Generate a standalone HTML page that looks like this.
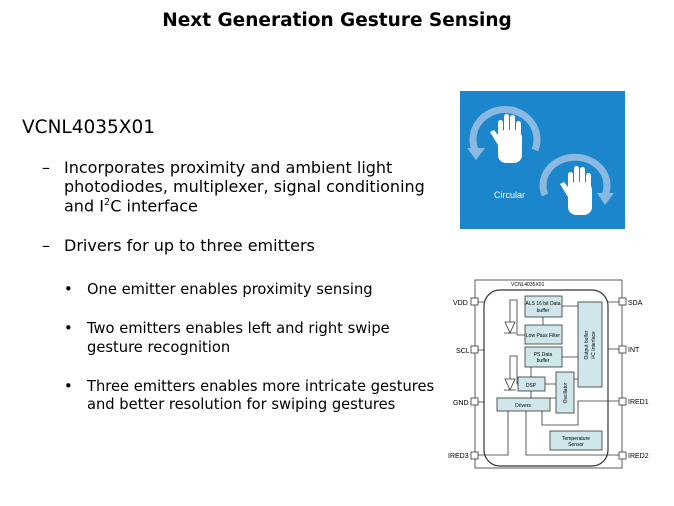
<!DOCTYPE html>
<html><head><meta charset="utf-8"><style>
body{margin:0;width:674px;height:506px;background:#fff;position:relative;overflow:hidden;font-family:"DejaVu Sans","Liberation Sans",sans-serif;color:#000}
.t{position:absolute;white-space:nowrap;line-height:1}
.b{font-size:16px}
.s{font-size:14.7px}
</style></head><body>
<div class="t" style="left:0;width:674px;text-align:center;top:12px;font-weight:bold;font-size:18.5px">Next Generation Gesture Sensing</div>
<div class="t" style="left:22px;top:119px;font-size:18.5px">VCNL4035X01</div>
<div class="t b" style="left:42px;top:160px">–</div>
<div class="t b" style="left:64px;top:160px">Incorporates proximity and ambient light</div>
<div class="t b" style="left:64px;top:179px">photodiodes, multiplexer, signal conditioning</div>
<div class="t b" style="left:64px;top:198px">and I<sup style="font-size:10px">2</sup>C interface</div>
<div class="t b" style="left:42px;top:238px">–</div>
<div class="t b" style="left:64px;top:238px">Drivers for up to three emitters</div>
<div class="t s" style="left:64px;top:283px">•</div>
<div class="t s" style="left:87px;top:283px">One emitter enables proximity sensing</div>
<div class="t s" style="left:64px;top:322px">•</div>
<div class="t s" style="left:87px;top:322px">Two emitters enables left and right swipe</div>
<div class="t s" style="left:87px;top:341px">gesture recognition</div>
<div class="t s" style="left:64px;top:380px">•</div>
<div class="t s" style="left:87px;top:380px">Three emitters enables more intricate gestures</div>
<div class="t s" style="left:87px;top:398px">and better resolution for swiping gestures</div>

<svg style="position:absolute;left:0;top:0" width="674" height="506">
<rect x="460" y="91" width="165" height="138" fill="#1b86cc"/>
<path d="M475 150 A32 30 0 1 1 535 150" fill="none" stroke="#8ab8e0" stroke-width="7"/>
<path d="M467 148 L485 148 L476 160Z" fill="#8ab8e0"/>
<path d="M545 195 A32 28 0 1 1 605 195" fill="none" stroke="#8ab8e0" stroke-width="7"/>
<path d="M597 193 L614 193 L605 205Z" fill="#8ab8e0"/>
<g fill="#fff"><rect x="498" y="130" width="24" height="33" rx="8"/><rect x="498" y="120" width="5" height="22" rx="2.5"/><rect x="504" y="114" width="5" height="22" rx="2.5"/><rect x="510" y="115" width="5" height="22" rx="2.5"/><rect x="516" y="121" width="5" height="18" rx="2.5"/><path d="M498 145 L490 132 L494 130 L502 140Z"/>
<rect x="568" y="182" width="24" height="33" rx="8"/><rect x="568" y="172" width="5" height="22" rx="2.5"/><rect x="574" y="166" width="5" height="22" rx="2.5"/><rect x="580" y="167" width="5" height="22" rx="2.5"/><rect x="586" y="173" width="5" height="18" rx="2.5"/><path d="M568 197 L560 184 L564 182 L572 192Z"/></g>
<text x="494" y="198" fill="#fff" font-family="Liberation Sans" font-size="9">Circular</text>

<g stroke="#333" fill="none" stroke-width="0.8">
<rect x="475" y="280" width="147" height="188"/>
<rect x="484" y="290" width="124" height="176" rx="16" stroke-width="1.2"/>
</g>
<g fill="#fff" stroke="#333" stroke-width="0.8">
<rect x="471" y="298" width="7" height="7"/><rect x="471" y="346" width="7" height="7"/><rect x="471" y="398" width="7" height="7"/><rect x="471" y="452" width="7" height="7"/>
<rect x="619" y="298" width="7" height="7"/><rect x="619" y="346" width="7" height="7"/><rect x="619" y="398" width="7" height="7"/><rect x="619" y="452" width="7" height="7"/>
</g>
<g font-family="Liberation Sans" font-size="7" fill="#000">
<text x="453" y="305">VDD</text><text x="456" y="353">SCL</text><text x="453" y="405">GND</text><text x="448" y="458">IRED3</text>
<text x="628" y="305">SDA</text><text x="628" y="352">INT</text><text x="628" y="404">IRED1</text><text x="628" y="458">IRED2</text>
<text x="511" y="286" font-size="5">VCNL4035X01</text>
</g>
<g fill="#cfe6ea" stroke="#333" stroke-width="0.8">
<rect x="525" y="296" width="37" height="21"/><rect x="525" y="325" width="37" height="19"/><rect x="525" y="347" width="37" height="20"/>
<rect x="578" y="302" width="24" height="85"/><rect x="518" y="377" width="27" height="14"/><rect x="556" y="372" width="18" height="41"/>
<rect x="497" y="398" width="53" height="13"/><rect x="550" y="431" width="52" height="19"/>
</g>
<g font-family="Liberation Sans" font-size="5" fill="#000" text-anchor="middle">
<text x="543" y="305">ALS 16 bit Data</text><text x="543" y="312">buffer</text>
<text x="543" y="337">Low Pass Filter</text>
<text x="543" y="356">PS Data</text><text x="543" y="362">buffer</text>
<text x="531" y="387">DSP</text><text x="523" y="407">Drivers</text>
<text x="576" y="440">Temperature</text><text x="576" y="446">Sensor</text>
<text transform="translate(588,345) rotate(-90)">Output buffer</text>
<text transform="translate(595,345) rotate(-90)">I²C Interface</text>
<text transform="translate(567,393) rotate(-90)">Oscillator</text>
</g>
<g stroke="#333" fill="none" stroke-width="0.8">
<path d="M505 322 L510 333 L515 322Z M504 333 L516 333"/><path d="M510 322 L510 300 L517 300 L517 335 L525 335"/>
<path d="M505 379 L510 390 L515 379Z M504 390 L516 390"/><path d="M510 379 L510 356 L517 356 L517 384 L518 384"/>
<path d="M543 325 L543 317 M562 306 L578 306 M562 357 L578 357 M531 377 L531 367 M545 384 L556 384 M574 379 L578 379 M531 398 L531 391 M556 398 L550 398"/>
<path d="M478 302 L484 302 M478 350 L484 350 M478 402 L484 402 M608 302 L619 302 M608 349 L619 349"/>
<path d="M619 401 L578 401 L578 425 L542 425 L542 411 M478 455 L508 455 L508 411 M619 455 L526 455 L526 411"/>
</g>
</svg>
</body></html>
